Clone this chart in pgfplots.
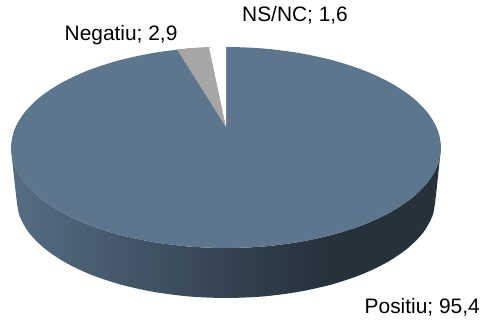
\documentclass[border=0pt]{standalone}
\usepackage{pgfplots}
\pgfplotsset{compat=1.18}
\usepackage{fontspec}
\setmainfont{Liberation Sans}
\definecolor{topblue}{HTML}{5D768E}
\definecolor{sa}{HTML}{566D83}
\definecolor{sb}{HTML}{344351}
\definecolor{sc}{HTML}{25313B}
\pgfdeclarehorizontalshading{sideshade}{100bp}{color(0bp)=(sa); color(25bp)=(sa); color(50bp)=(sb); color(62bp)=(sc); color(100bp)=(sc)}
\newcommand{\lab}{\fontsize{20.9pt}{24pt}\selectfont}
\begin{document}
\begin{tikzpicture}
\useasboundingbox (0,0) rectangle (483pt,324pt);
\begin{axis}[
  at={(0,0)}, anchor=south west,
  scale only axis, width=483pt, height=324pt,
  xmin=0, xmax=483, ymin=0, ymax=324, y dir=reverse,
  hide axis, clip=false
]
% side wall
\addplot[shading=sideshade, draw=none, smooth, no markers] coordinates {
(441,147.5) (437.7,165) (428,181.9) (412.2,197.75) (390.7,212.1) (364.2,224.5) (333.5,234.5) (299.5,241.9) (263.3,246.5) (226,248) (188.7,246.5) (152.5,241.9) (118.5,234.5) (87.8,224.5) (61.3,212.1) (39.8,197.75) (24,181.9) (14.3,165) (11,147.5)
(16.5,199) (19.7,216.2) (29.1,232.9) (44.6,248.5) (65.5,262.6) (91.3,274.8) (121.2,284.7) (154.4,292) (189.6,296.5) (226,298) (262.4,296.5) (297.6,292) (330.8,284.7) (360.7,274.8) (386.5,262.6) (407.4,248.5) (422.9,232.9) (432.3,216.2) (435.5,199) (441,147.5)
};
% Positiu; 95,4 (top face)
\addplot[fill=topblue, draw=none, smooth cycle, no markers] coordinates {
(441,147.5) (437.7,165) (428,181.9) (412.2,197.75) (390.7,212.1) (364.2,224.5) (333.5,234.5) (299.5,241.9) (263.3,246.5) (226,248) (188.7,246.5) (152.5,241.9) (118.5,234.5) (87.8,224.5) (61.3,212.1) (39.8,197.75) (24,181.9) (14.3,165) (11,147.5)
(14.3,130) (24,113.1) (39.8,97.25) (61.3,82.9) (87.8,70.5) (118.5,60.5) (152.5,53.1) (188.7,48.5) (226,47) (263.3,48.5) (299.5,53.1) (333.5,60.5) (364.2,70.5) (390.7,82.9) (412.2,97.25) (428,113.1) (437.7,130)
};
% Negatiu; 2,9
\addplot[fill={rgb,255:red,166;green,166;blue,166}, draw=none, no markers] coordinates {
(226,127) (177,49.6) (188.7,48.5) (199,47.7) (209,47.3)
};
% NS/NC; 1,6
\addplot[fill=white, draw=none, no markers] coordinates {
(226,127) (209,47.3) (218,47.1) (226,47)
};
\node[anchor=base west, inner sep=0pt] at (axis cs:64.5,40) {\lab Negatiu; 2,9};
\node[anchor=base west, inner sep=0pt] at (axis cs:242,22) {\lab NS/NC; 1,6};
\node[anchor=base west, inner sep=0pt] at (axis cs:364.5,313) {\lab Positiu; 95,4};
\end{axis}
\end{tikzpicture}
\end{document}
